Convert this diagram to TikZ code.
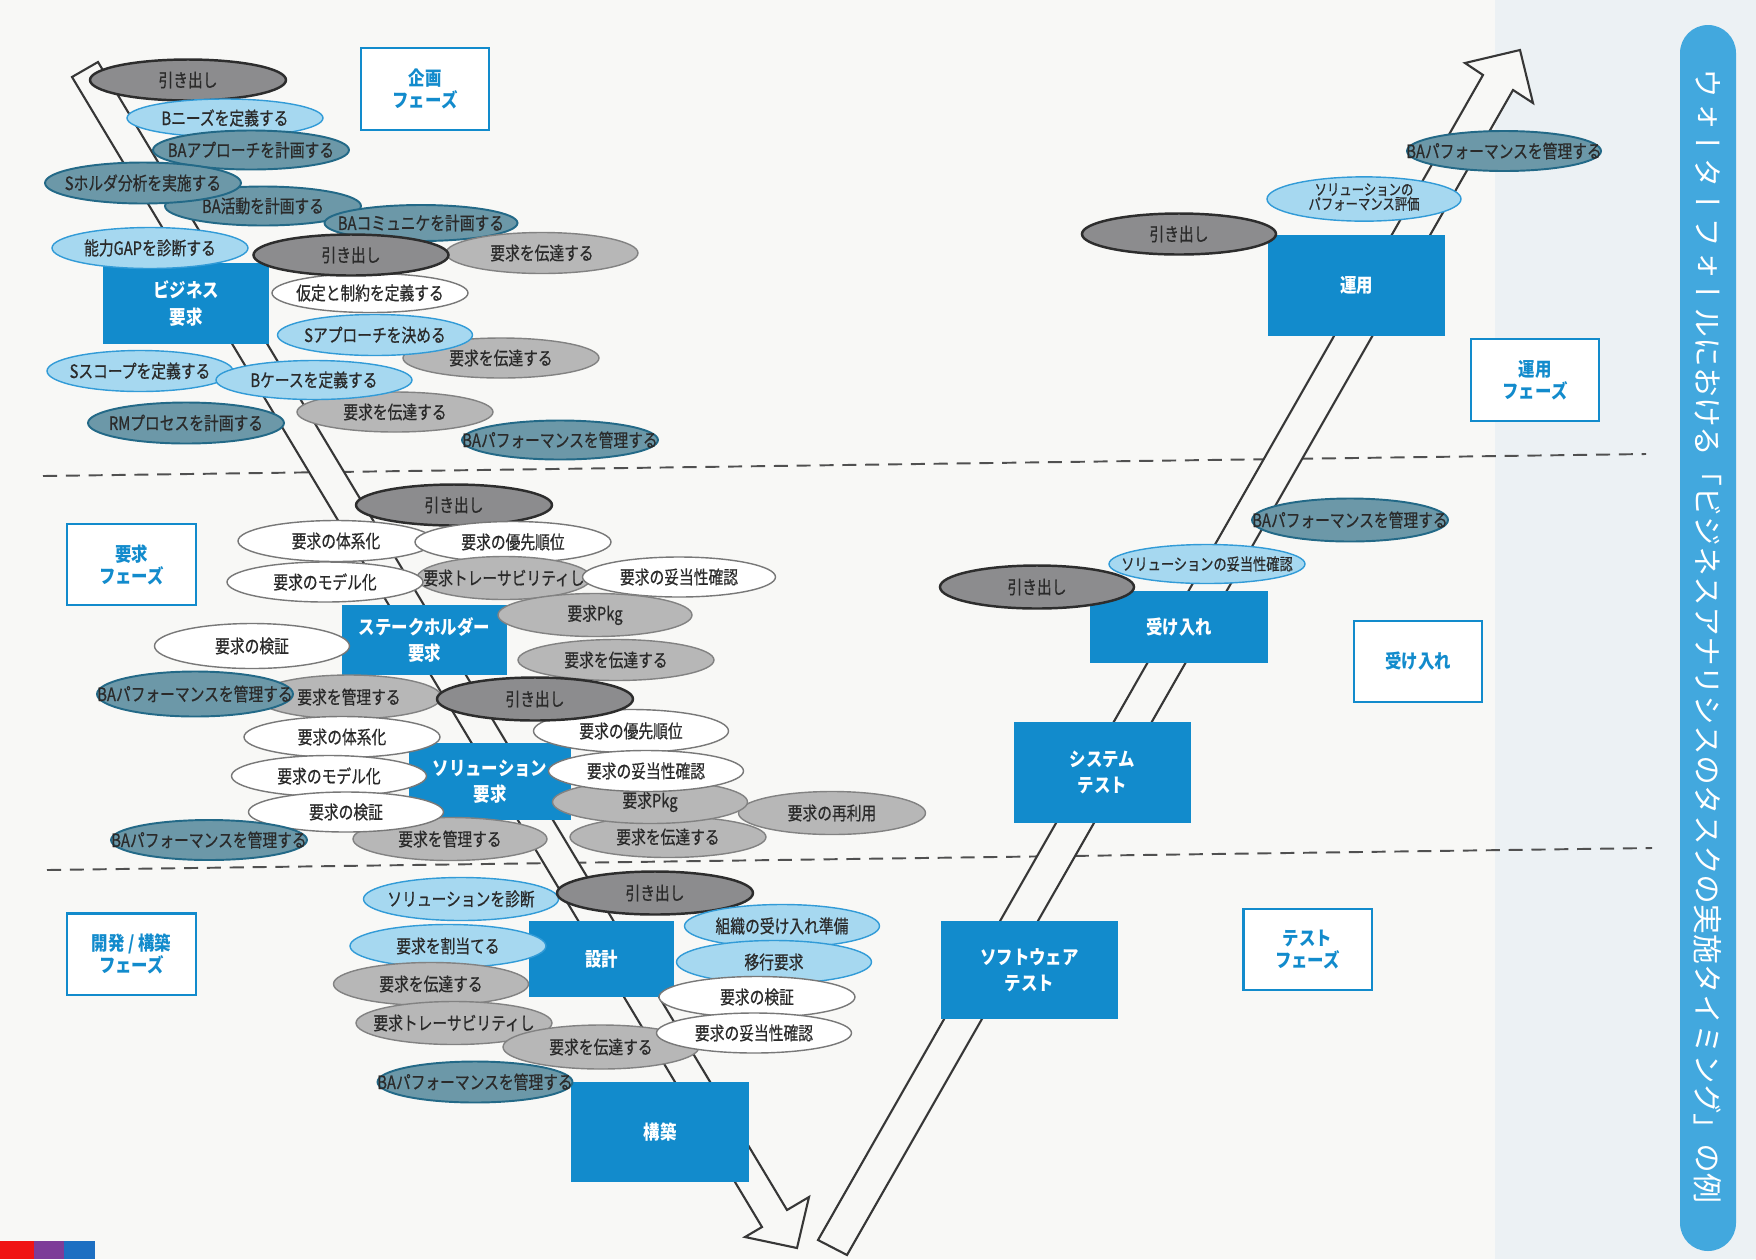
\documentclass[tikz,border=0pt]{standalone}
\usepackage{fontspec}
\usetikzlibrary{shapes.geometric}
\setmainfont{Noto Sans CJK JP}
\newfontfamily\tkfont[FakeStretch=0.8,FakeBold=0.6]{Noto Sans CJK JP}
\newfontfamily\bxfont[FakeStretch=0.85]{Noto Sans CJK JP}
\newfontfamily\vtfont[Vertical=RotatedGlyphs]{Noto Sans CJK JP}
\newfontfamily\hzfont{Noto Sans CJK JP}
% corner brackets set from the horizontal glyphs inside the turned title
\newcommand\obr{{\hzfont\fontsize{17}{17}\selectfont 「}}
\newcommand\cbr{{\hzfont\fontsize{17}{17}\selectfont 」}}

\definecolor{bg}{RGB}{248,248,246}
\definecolor{bgr}{RGB}{236,241,244}
\definecolor{boxblue}{RGB}{18,139,204}
\definecolor{barblue}{RGB}{66,168,222}
\definecolor{dkfill}{RGB}{140,140,142}
\definecolor{dkline}{RGB}{45,45,45}
\definecolor{grfill}{RGB}{183,183,183}
\definecolor{grline}{RGB}{130,130,130}
\definecolor{whline}{RGB}{120,120,120}
\definecolor{lbfill}{RGB}{166,216,240}
\definecolor{lbline}{RGB}{50,155,215}
\definecolor{tlfill}{RGB}{108,152,168}
\definecolor{tlline}{RGB}{35,105,135}
\definecolor{txt}{RGB}{42,42,42}
\definecolor{arrowln}{RGB}{55,55,55}
\definecolor{dashln}{RGB}{80,80,80}
\definecolor{stripred}{RGB}{240,20,20}
\definecolor{strippurple}{RGB}{125,60,152}
\definecolor{stripblue}{RGB}{29,111,194}

\tikzset{
  ew/.style={minimum width=#1*0.02cm},
  eh/.style={minimum height=#1*0.02cm},
  task/.style={ellipse, inner sep=0pt, minimum width=3.92cm, minimum height=0.82cm,
    font=\tkfont\fontsize{10.5}{11}\selectfont, text=txt, line width=0.8pt},
  dk/.style={task, fill=dkfill, draw=dkline, line width=1.4pt},
  gr/.style={task, fill=grfill, draw=grline},
  wh/.style={task, fill=white, draw=whline},
  lb/.style={task, fill=lbfill, draw=lbline},
  tl/.style={task, fill=tlfill, draw=tlline, line width=1.1pt},
  stage/.style={rectangle, fill=boxblue, text=white, inner sep=0pt, align=center,
    font=\bxfont\bfseries\fontsize{11}{15}\selectfont},
  phase/.style={rectangle, draw=boxblue, line width=1.4pt, fill=white, text=boxblue,
    align=center, inner sep=0pt, minimum width=2.57cm, minimum height=1.63cm,
    font=\bxfont\bfseries\fontsize{11}{12.5}\selectfont},
  shaft/.style={draw=arrowln, line width=1.2pt, fill=bg, line join=miter},
  divider/.style={draw=dashln, line width=1.1pt, dash pattern=on 8pt off 5pt},
}

% task ellipse: [extra options]{style}{name}{x,y}{label}
\newcommand\tk[5][]{\node[#2,#1] (#3) at (#4) {\makebox[0pt]{#5}};}

\begin{document}
\begin{tikzpicture}[x=0.02cm,y=-0.02cm]
\useasboundingbox (0,0) rectangle (1756,1259);
\fill[bg] (0,0) rectangle (1756,1259);
\fill[bgr] (1495,0) rectangle (1756,1259);

% colour strip in the lower left corner
\fill[stripred] (0,1241) rectangle (34,1259);
\fill[strippurple] (34,1241) rectangle (64,1259);
\fill[stripblue] (64,1241) rectangle (95,1259);

% title bar
\fill[barblue, rounded corners=28*0.02cm] (1680,25) rectangle (1736,1251);
\node[rotate=-90, text=white, font=\vtfont\fontsize{17}{17}\selectfont, inner sep=0pt]
  (title) at (1708,636) {ウォーターフォールにおける\obr ビジネスアナリシスのタスクの実施タイミング\cbr の例};

% phase dividers
\coordinate (d1a) at (43,476);  \coordinate (d1b) at (1646,454);
\coordinate (d2a) at (47,870);  \coordinate (d2b) at (1652,848);
\draw[divider] (d1a) -- (d1b);
\draw[divider] (d2a) -- (d2b);

% downward and upward hollow arrows of the V
\path[shaft] (72,77) -- (98,62) -- (787,1210) -- (809,1197) -- (797,1248)
  -- (745,1237) -- (762,1227) -- cycle;
\path[shaft] (818,1240) -- (847,1255) -- (1513,90) -- (1533,103) -- (1520,50)
  -- (1465,63) -- (1483,75) -- cycle;

% phase labels
\node[phase] (pplan) at (425,89) {企画\\フェーズ};
\node[phase] (preq) at (131.5,564.5) {要求\\フェーズ};
\node[phase] (pdev) at (131.5,954) {開発 / 構築\\フェーズ};
\node[phase] (pops) at (1535,380) {運用\\フェーズ};
\node[phase] (pacc) at (1418,661.5) {受け入れ};
\node[phase] (ptest) at (1307.5,949.5) {テスト\\フェーズ};

% stages of the V
\node[stage, ew=166, eh=81] (biz) at (186,303.5) {ビジネス\\要求};
\node[stage, ew=165, eh=70] (stk) at (424.5,640) {ステークホルダー\\要求};
\node[stage, ew=162, eh=77] (sol) at (490,781.5) {ソリューション\\要求};
\node[stage, ew=145, eh=76] (dsg) at (601.5,959) {設計};
\node[stage, ew=178, eh=100] (bld) at (660,1132) {構築};
\node[stage, ew=177, eh=98] (swt) at (1029.5,970) {ソフトウェア\\テスト};
\node[stage, ew=177, eh=101] (syt) at (1102.5,772.5) {システム\\テスト};
\node[stage, ew=178, eh=72] (acc) at (1179,627) {受け入れ};
\node[stage, ew=177, eh=101] (ops) at (1356.5,285.5) {運用};

% business requirements tasks
\tk{dk}{e01}{188,80}{引き出し}
\tk[eh=38]{lb}{e02}{225,118}{Bニーズを定義する}
\tk[eh=39]{tl}{e03}{251,150}{BAアプローチを計画する}
\tk[eh=39]{tl}{e05}{263,206}{BA活動を計画する}
\tk{tl}{e04}{143,183}{Sホルダ分析を実施する}
\tk[ew=193,eh=36]{tl}{e06}{421,223}{BAコミュニケを計画する}
\tk[ew=192]{gr}{e09}{542,253}{要求を伝達する}
\tk{lb}{e07}{150,248}{能力GAPを診断する}
\tk[eh=39]{wh}{e10}{370,293}{仮定と制約を定義する}
\tk[ew=195]{dk}{e08}{351,255}{引き出し}
\tk[eh=40]{gr}{e12}{501,358}{要求を伝達する}
\tk[ew=195]{lb}{e11}{375,335}{Sアプローチを決める}
\tk[ew=186]{lb}{e13}{140,371}{Sスコープを定義する}
\tk[eh=40]{gr}{e15}{395,412}{要求を伝達する}
\tk[eh=39]{lb}{e14}{314,380}{Bケースを定義する}
\tk{tl}{e16}{186,423}{RMプロセスを計画する}
\tk[eh=39]{tl}{e17}{560,440}{BAパフォーマンスを管理する}

% stakeholder requirements tasks
\tk{dk}{e18}{454,505}{引き出し}
\tk{wh}{e19}{336,541}{要求の体系化}
\tk{wh}{e20}{513,542}{要求の優先順位}
\tk[ew=174,eh=43]{gr}{e22}{504,578}{要求トレーサビリティし}
\tk[eh=40]{wh}{e21}{325,582}{要求のモデル化}
\tk[ew=193,eh=40]{wh}{e23}{679,577}{要求の妥当性確認}
\tk[ew=194,eh=43]{gr}{e24}{595,615}{要求Pkg}
\tk[ew=195,eh=45]{wh}{e25}{252,646}{要求の検証}
\tk{gr}{e26}{616,660}{要求を伝達する}
\tk[ew=185,eh=44]{gr}{e28}{349,697}{要求を管理する}
\tk[eh=45]{tl}{e27}{195,694}{BAパフォーマンスを管理する}

% solution requirements tasks
\tk{wh}{e30}{342,737}{要求の体系化}
\tk[ew=195,eh=43]{wh}{e31}{631,731}{要求の優先順位}
\tk[eh=43]{dk}{e29}{535,699}{引き出し}
\tk[ew=195]{wh}{e32}{329,776}{要求のモデル化}
\tk{gr}{e39}{668,837}{要求を伝達する}
\tk[ew=187,eh=43]{gr}{e36}{832,813}{要求の再利用}
\tk[ew=195,eh=43]{gr}{e35}{650,802}{要求Pkg}
\tk[ew=195]{wh}{e33}{646,771}{要求の妥当性確認}
\tk[ew=194,eh=43]{gr}{e38}{450,839}{要求を管理する}
\tk[ew=195,eh=40]{wh}{e34}{346,812}{要求の検証}
\tk[eh=40]{tl}{e37}{209,840}{BAパフォーマンスを管理する}

% design tasks
\tk[ew=195,eh=43]{lb}{e40}{461,899}{ソリューションを診断}
\tk[eh=43]{dk}{e41}{655,893}{引き出し}
\tk[ew=195,eh=43]{lb}{e42}{782,926}{組織の受け入れ準備}
\tk[eh=43]{lb}{e43}{448,946}{要求を割当てる}
\tk[ew=195,eh=43]{lb}{e44}{774,962}{移行要求}
\tk[ew=195,eh=43]{gr}{e45}{431,984}{要求を伝達する}
\tk[eh=43]{gr}{e47}{454,1023}{要求トレーサビリティし}
\tk[eh=44]{gr}{e49}{601,1047}{要求を伝達する}
\tk{wh}{e46}{757,997}{要求の検証}
\tk[ew=195,eh=40]{wh}{e48}{754,1033}{要求の妥当性確認}
\tk[ew=195]{tl}{e50}{475,1082}{BAパフォーマンスを管理する}

% acceptance and operation tasks
\tk[ew=194]{dk}{e51}{1179,234}{引き出し}
\tk[ew=194]{lb}{e52}{1364,199}{\fontsize{8.8}{9.5}\selectfont\begin{tabular}{@{}c@{}}ソリューションの\\[-2pt]パフォーマンス評価\end{tabular}}
\tk[ew=194,eh=40]{tl}{e53}{1504,151}{BAパフォーマンスを管理する}
\tk[eh=39]{lb}{e55}{1207,564}{\fontsize{9.4}{10}\selectfont ソリューションの妥当性確認}
\tk[ew=194,eh=43]{dk}{e54}{1037,587}{引き出し}
\tk[eh=43]{tl}{e56}{1350,520}{BAパフォーマンスを管理する}
\end{tikzpicture}
\end{document}
